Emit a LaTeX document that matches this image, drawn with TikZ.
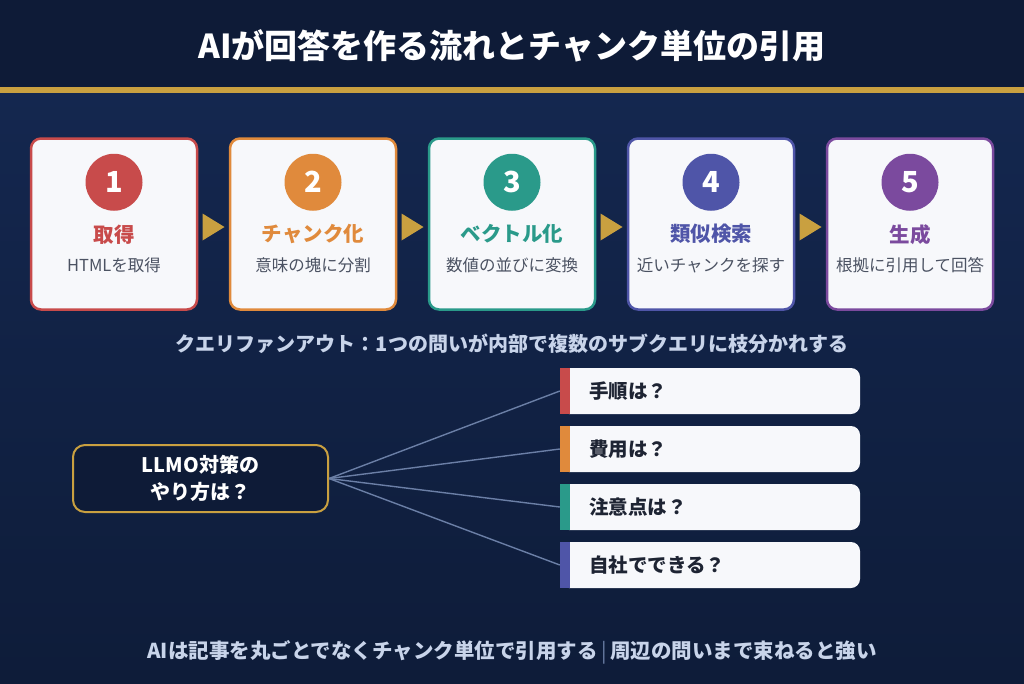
\documentclass[tikz,border=0pt]{standalone}
\usepackage{fontspec}
\setmainfont{Noto Sans CJK JP}
\usetikzlibrary{positioning,calc}

\definecolor{navy}{HTML}{0E1B37}
\definecolor{bodytop}{HTML}{14274F}
\definecolor{bodybot}{HTML}{0E1C39}
\definecolor{gold}{HTML}{C9A040}
\definecolor{card}{HTML}{F7F8FB}
\definecolor{subgray}{HTML}{4B5262}
\definecolor{ink}{HTML}{1E2433}
\definecolor{pale}{HTML}{C8D4EA}
\definecolor{wire}{HTML}{6B7FA6}
\definecolor{cred}{HTML}{C84B4B}
\definecolor{corange}{HTML}{E08A3C}
\definecolor{cteal}{HTML}{2A9A8A}
\definecolor{cindigo}{HTML}{4F55A8}
\definecolor{cpurple}{HTML}{7B4A9E}

\begin{document}
\begin{tikzpicture}[x=1pt,y=-1pt,
    stepbox/.style={draw=#1, line width=2.5pt, fill=card, rounded corners=10pt,
        minimum width=166pt, minimum height=171pt},
    numdot/.style={circle, fill=#1, minimum size=57pt, inner sep=0pt, text=white,
        font=\fontsize{29}{30}\selectfont\bfseries},
    steptitle/.style={text=#1, font=\fontsize{20.5}{22}\selectfont\bfseries},
    stepsub/.style={text=subgray, font=\fontsize{16.5}{18}\selectfont},
    subq/.style={fill=card, rounded corners=9pt, minimum width=300pt, minimum height=46pt},
    subtext/.style={text=ink, font=\fontsize{19.5}{21}\selectfont\bfseries, anchor=west},
    wireline/.style={draw=wire, line width=1.4pt}]

    % Background
    \useasboundingbox (0,0) rectangle (1024,683);
    \fill[navy] (0,0) rectangle (1024,87);
    \shade[top color=bodytop, bottom color=bodybot] (0,93) rectangle (1024,683);
    \fill[gold] (0,87) rectangle (1024,93);

    % Title
    \node[text=white, font=\fontsize{33}{36}\selectfont\bfseries] (title) at (512,46)
        {AIが回答を作る流れとチャンク単位の引用};

    % Steps
    \foreach \i/\col/\ttl/\sub in {1/cred/取得/HTMLを取得,
        2/corange/チャンク化/意味の塊に分割,
        3/cteal/ベクトル化/数値の並びに変換,
        4/cindigo/類似検索/近いチャンクを探す,
        5/cpurple/生成/根拠に引用して回答} {
        \node[stepbox=\col] (s\i) at ({114+199*(\i-1)},224) {};
        \node[numdot=\col] (n\i) at ($(s\i.north)+(0,45)$) {\i};
        \node[steptitle=\col] (t\i) at ($(s\i.north)+(0,97)$) {\ttl};
        \node[stepsub] (d\i) at ($(s\i.north)+(0,128)$) {\sub};
    }

    % Arrows between steps
    \foreach \a/\b in {1/2,2/3,3/4,4/5} {
        \fill[gold] ($(s\a.east)!0.5!(s\b.west)+(-11,-10.5)$) -- ++(22,13.5) -- ++(-22,13.5) -- cycle;
    }

    % Fan-out caption
    \node[text=pale, font=\fontsize{20}{22}\selectfont\bfseries] (fan) at (512,344)
        {クエリファンアウト：1つの問いが内部で複数のサブクエリに枝分かれする};

    % Query
    \node[draw=gold, line width=2pt, fill=navy, rounded corners=12pt, minimum width=255pt,
        minimum height=67pt, align=center, text=white,
        font=\fontsize{20}{27}\selectfont\bfseries] (q) at (200.5,478.5) {LLMO対策の\\やり方は？};

    % Sub-queries
    \foreach \i/\col/\txt in {1/cred/手順は？, 2/corange/費用は？, 3/cteal/注意点は？, 4/cindigo/自社でできる？} {
        \node[subq] (sq\i) at ({710}, {391+58*(\i-1)}) {};
        \fill[\col] (sq\i.north west) rectangle ($(sq\i.south west)+(10,0)$);
        \coordinate (in\i) at (sq\i.west);
        \node[subtext] (st\i) at ($(sq\i.west)+(26,0)$) {\txt};
        \draw[wireline] (q.east) -- (in\i);
    }

    % Footer
    \node[text=pale, font=\fontsize{20.5}{22}\selectfont\bfseries] (foot) at (512,652)
        {AIは記事を丸ごとでなくチャンク単位で引用する{\color{wire}\mdseries\,|\,}周辺の問いまで束ねると強い};
\end{tikzpicture}
\end{document}
